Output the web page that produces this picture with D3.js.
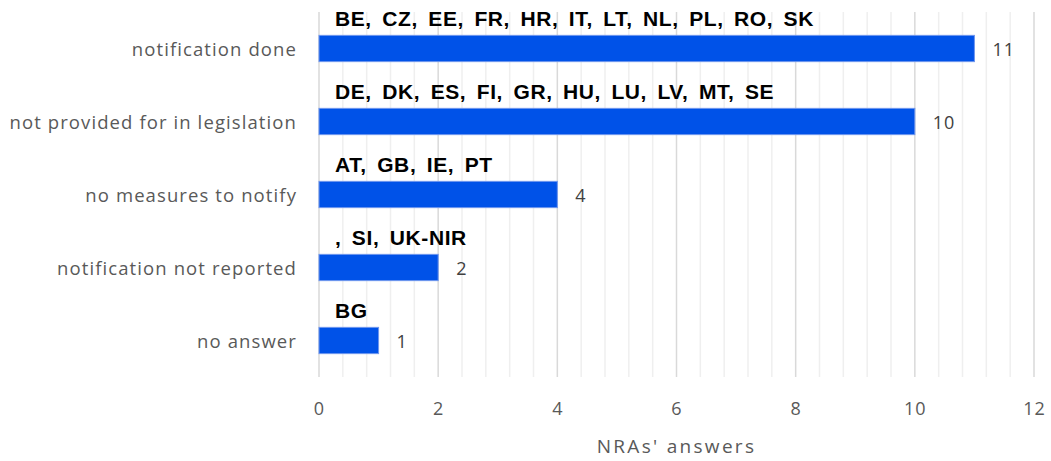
<!DOCTYPE html>
<meta charset="utf-8">
<html>
<head>
    <script src="https://d3js.org/d3.v7.min.js"></script>
    <style>
        body { margin: 0; background: #fff; }
    </style>
</head>
<body>
    <div id="my_dataviz"></div>
    <script>
        // data
        const categories = ["notification done", "not provided for in legislation", "no measures to notify", "notification not reported", "no answer"];
        const counts = [11, 10, 4, 2, 1];
        const countries = [
            "BE, CZ, EE, FR, HR, IT, LT, NL, PL, RO, SK",
            "DE, DK, ES, FI, GR, HU, LU, LV, MT, SE",
            "AT, GB, IE, PT",
            ", SI, UK-NIR",
            "BG"
        ];
        const xTicks = [0, 2, 4, 6, 8, 10, 12];
        const xTitle = "NRAs' answers";

        const W = 1051, H = 461;
        const margin = { top: 12, right: 17, bottom: 84, left: 319 },
            width = W - margin.left - margin.right,
            height = H - margin.top - margin.bottom;

        const svg = d3.select("#my_dataviz").append("svg")
            .attr("width", W)
            .attr("height", H)
            .append("g")
            .attr("transform", "translate(" + margin.left + "," + margin.top + ")");

        const x = d3.scaleLinear().domain([0, 12]).range([0, width]);
        const y = d3.scaleBand().domain(categories).range([0, height]).paddingInner(0.64).paddingOuter(0.32);

        // minor gridlines every 0.4, major every 2
        const minor = d3.range(0, 12.001, 0.4).filter(v => Math.abs(v / 2 - Math.round(v / 2)) > 0.01);
        svg.append("g").selectAll("line").data(minor).enter().append("line")
            .attr("x1", d => x(d)).attr("x2", d => x(d))
            .attr("y1", 0).attr("y2", height)
            .attr("stroke", "#efefef").attr("stroke-width", 1.5);
        svg.append("g").selectAll("line").data(xTicks).enter().append("line")
            .attr("x1", d => x(d)).attr("x2", d => x(d))
            .attr("y1", 0).attr("y2", height)
            .attr("stroke", "#d9d9d9").attr("stroke-width", 1.5);

        // x axis tick labels
        const xAxis = svg.append("g").attr("transform", `translate(0, ${height})`)
            .call(d3.axisBottom(x).tickValues(xTicks).tickSize(0).tickPadding(25));
        xAxis.select(".domain").remove();
        xAxis.selectAll("text")
            .style("font-family", "'Open Sans', sans-serif")
            .style("font-size", "18px")
            .style("letter-spacing", "1px")
            .attr("fill", "#595959");

        // x axis title
        svg.append("text")
            .attr("x", width / 2)
            .attr("y", height + 76)
            .attr("text-anchor", "middle")
            .style("font-family", "'Open Sans', sans-serif")
            .style("font-size", "19px")
            .style("letter-spacing", "2.3px")
            .attr("fill", "#595959")
            .text(xTitle);

        // y category labels
        svg.append("g").selectAll("text").data(categories).enter().append("text")
            .attr("x", -22)
            .attr("y", d => y(d) + y.bandwidth() / 2)
            .attr("dy", "0.38em")
            .attr("text-anchor", "end")
            .style("font-family", "'Open Sans', sans-serif")
            .style("font-size", "18.5px")
            .style("letter-spacing", "1.1px")
            .attr("fill", "#595959")
            .text(d => d);

        // bars
        svg.append("g").selectAll("rect").data(categories).enter().append("rect")
            .attr("x", x(0))
            .attr("y", d => y(d))
            .attr("width", (d, i) => x(counts[i]) - x(0))
            .attr("height", y.bandwidth())
            .attr("fill", "#0052e8")
            .attr("stroke", "#6f96ee")
            .attr("stroke-width", 1);

        // value labels
        svg.append("g").selectAll("text").data(categories).enter().append("text")
            .attr("x", (d, i) => x(counts[i]) + 18)
            .attr("y", d => y(d) + y.bandwidth() / 2)
            .attr("dy", "0.4em")
            .style("font-family", "'Open Sans', sans-serif")
            .style("font-size", "18px")
            .style("letter-spacing", "1px")
            .attr("fill", "#404040")
            .text((d, i) => counts[i]);

        // country labels above the bars
        svg.append("g").selectAll("text").data(categories).enter().append("text")
            .attr("x", 16)
            .attr("y", d => y(d) - 9)
            .style("font-family", "'Liberation Sans', Arial, sans-serif")
            .style("font-weight", "bold")
            .style("font-size", "21px")
            .style("letter-spacing", "0.6px")
            .style("word-spacing", "4px")
            .attr("fill", "#000")
            .text((d, i) => countries[i]);
    </script>
</body>
</html>
